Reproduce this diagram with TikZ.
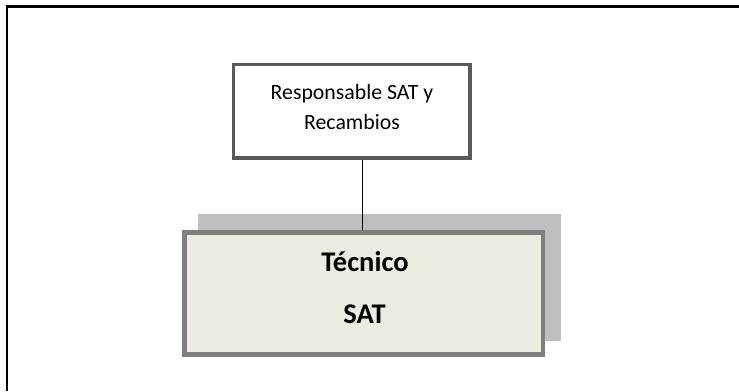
\documentclass[tikz,border=0pt]{standalone}
\usepackage{fontspec}
\setmainfont{Carlito}
\definecolor{topborder}{HTML}{5A5A5A}
\definecolor{mainborder}{HTML}{7F7F7F}
\definecolor{mainfill}{HTML}{EDEAE0}
\definecolor{shadowgray}{HTML}{BFBFBF}
\begin{document}
\begin{tikzpicture}[x=1pt,y=-1pt,
  frameline/.style={line width=2.5pt,black},
  topbox/.style={draw=topborder,line width=3.5pt,fill=white,minimum width=236.5pt,minimum height=93.5pt,inner sep=0pt},
  mainbox/.style={draw=mainborder,line width=4.5pt,fill=mainfill,minimum width=358.3pt,minimum height=122.4pt,inner sep=0pt},
  shadowbox/.style={fill=shadowgray,minimum width=362.7pt,minimum height=126.4pt,inner sep=0pt},
  toptext/.style={anchor=base,inner sep=0pt,font=\fontsize{21.8}{30.3}\selectfont},
  maintext/.style={anchor=base,inner sep=0pt,font=\fontsize{28.5}{51.6}\selectfont\bfseries},
  link/.style={line width=1pt,black}]
\useasboundingbox (0,0) rectangle (739,391);
\coordinate (tl) at (7,6.5);
\coordinate (tr) at (739,6.5);
\coordinate (bl) at (7,391);
\draw[frameline] (tr) -- (tl) -- (bl);
\node[topbox] (resp) at (351.75,111.25) {};
\node[toptext] (resp1) at (352,99) {Responsable SAT y};
\node[toptext] (resp2) at (352,129.3) {Recambios};
\node[shadowbox] (shadow) at (379.65,277.5) {};
\node[mainbox] (tec) at (363.85,293.5) {};
\node[maintext] (tec1) at (365,271.7) {Técnico};
\node[maintext] (tec2) at (364.5,323.3) {SAT};
\draw[link] (resp.south -| 362,0) -- (tec.north -| 362,0);
\end{tikzpicture}
\end{document}
